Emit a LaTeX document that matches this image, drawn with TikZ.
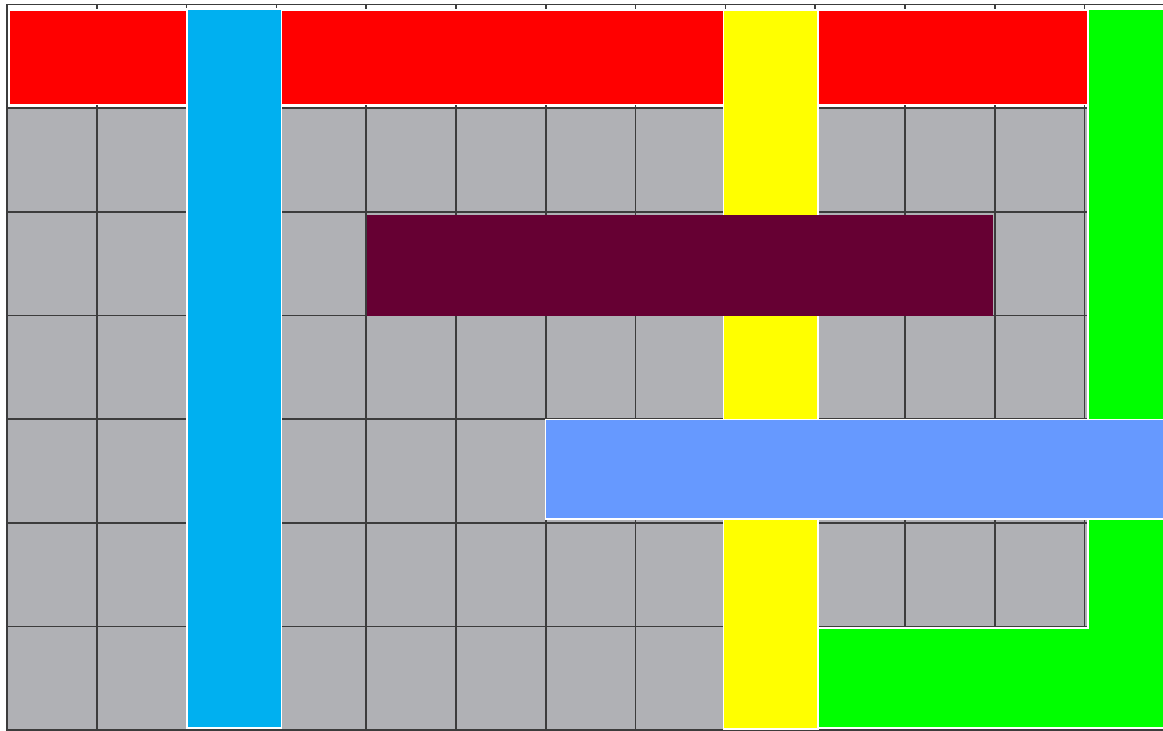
\documentclass[tikz,border=0pt]{standalone}
\definecolor{cellgray}{HTML}{B0B1B5}
\definecolor{gridgray}{HTML}{3C3C3C}
\definecolor{barred}{HTML}{FF0000}
\definecolor{barcyan}{HTML}{00B0F0}
\definecolor{baryellow}{HTML}{FFFF00}
\definecolor{barpurple}{HTML}{660033}
\definecolor{barblue}{HTML}{6699FF}
\definecolor{bargreen}{HTML}{00FF00}
\tikzset{
  gridline/.style={draw=gridgray, line width=1.6pt},
  bar/.style={draw=white, line width=1.2pt},
}
\begin{document}
\begin{tikzpicture}[x=1pt,y=-1pt]
\useasboundingbox (0,0) rectangle (1163,731);
\fill[white] (0,0) rectangle (1163,731);
\fill[cellgray] (7,4.5) rectangle (1163,730);
\fill[white] (7,4.5) rectangle (1163,108);
\foreach \i in {0,...,12} \draw[gridline] ({7+89.8*\i},4.5) -- ({7+89.8*\i},730);
\foreach \j in {0,...,7} \draw[gridline] (6.2,{4.5+103.64*\j}) -- (1163,{4.5+103.64*\j});
% bars
\path[bar, fill=barred] (9,10) rectangle (1088,104.5);
\path[bar, fill=baryellow] (723.5,10) rectangle (818,729);
\path[bar, fill=barcyan] (187,9) rectangle (281.5,728);
\path[fill=barpurple] (367,215) rectangle (993,316);
\path[bar, fill=bargreen] (1088,9) -- (1175,9) -- (1175,728) -- (818,728) -- (818,628) -- (1088,628) -- cycle;
\path[bar, fill=barblue] (545.5,419.5) rectangle (1175,519);
\end{tikzpicture}
\end{document}
